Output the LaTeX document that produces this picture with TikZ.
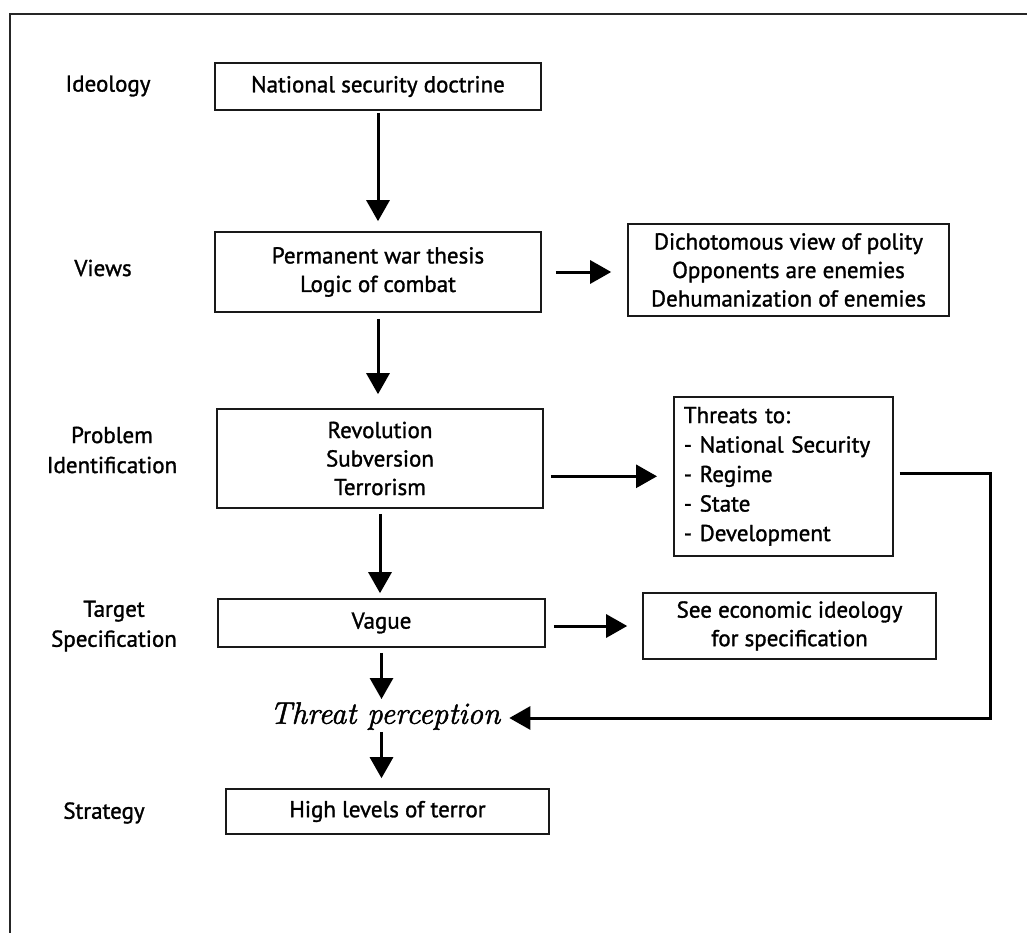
\documentclass[tikz,border=0pt]{standalone}
\usepackage{fontspec}
\setmainfont{PT Sans}[FakeBold=1.3]
\newfontfamily\tpfont{Latin Modern Roman}[FakeBold=1.6]
\usetikzlibrary{arrows.meta,calc}
\tikzset{
  x=1pt, y=-1pt,
  box/.style={draw=black!90, line width=1.6pt, align=center, inner sep=0pt,
    font=\fontsize{23}{28.5}\selectfont},
  lbl/.style={align=center, font=\fontsize{23}{30}\selectfont},
  arr/.style={line width=3pt, -{Triangle[length=21pt,width=23pt]}},
  frame/.style={line width=2pt, draw=black!85}
}
\begin{document}
\begin{tikzpicture}
\useasboundingbox (0,0) rectangle (1027,933);
\draw[frame] (1027,14) -- (10,14) -- (10,933);

% left labels
\node[lbl] (lid) at (108,86) {Ideology};
\node[lbl] (lvi) at (103,268) {Views};
\node[lbl] (lpi) at (112,450) {Problem\\Identification};
\node[lbl] (lts) at (114,626) {Target\\Specification};
\node[lbl] (lst) at (104,813) {Strategy};

% main column
\node[box, minimum width=326, minimum height=47] (nsd) at (378,86.5) {National security doctrine};
\node[box, minimum width=326, minimum height=80] (pw) at (378,272) {Permanent war thesis\\Logic of combat};
\node[box, minimum width=326, minimum height=99] (rev) at (380,458.5) {Revolution\\Subversion\\Terrorism};
\node[box, minimum width=327, minimum height=48] (vague) at (381.5,623) {Vague};
\node[inner sep=1pt, font=\tpfont\itshape\fontsize{31}{32}\selectfont] (tp) at (385,716) {Threat perception};
\node[box, minimum width=323, minimum height=45] (high) at (387.5,811.5) {High levels of terror};

% right column
\node[box, minimum width=321, minimum height=92] (dich) at (788.5,270) {Dichotomous view of polity\\Opponents are enemies\\Dehumanization of enemies};
\node[box, minimum width=219, minimum height=159, align=left, anchor=north west, text width=199, inner xsep=10pt, font=\fontsize{23}{29.5}\selectfont] (thr) at (673,396) {Threats to:\\- National Security\\- Regime\\- State\\- Development};
\node[box, minimum width=293, minimum height=66] (see) at (789.5,626) {See economic ideology\\for specification};

% vertical arrows
\draw[arr, shorten <=2pt, shorten >=10pt] (nsd.south) -- (nsd.south |- pw.north);
\draw[arr, shorten <=6pt, shorten >=14pt] (pw.south) -- (pw.south |- rev.north);
\draw[arr, shorten <=5pt, shorten >=5pt] (rev.south) -- (rev.south |- vague.north);
\draw[arr, shorten <=5pt, shorten >=2pt] (vague.south) -- (vague.south |- tp.north);
\draw[arr, shorten <=1pt, shorten >=10pt] (tp.south -| vague.south) -- (vague.south |- high.north);

% horizontal arrows
\draw[arr, shorten <=14pt, shorten >=16pt] (pw.east) -- (pw.east -| dich.west);
\draw[arr, shorten <=7pt, shorten >=16pt] (rev.east |- thr.west) -- (thr.west);
\draw[arr, shorten <=8pt, shorten >=15pt] (vague.east |- see.west) -- (see.west);

% feedback
\coordinate (corner) at (990,718);
\draw[arr, shorten >=8pt] ([xshift=6pt,yshift=3pt]thr.east) -| (corner) -- (tp.east |- corner);
\end{tikzpicture}
\end{document}
